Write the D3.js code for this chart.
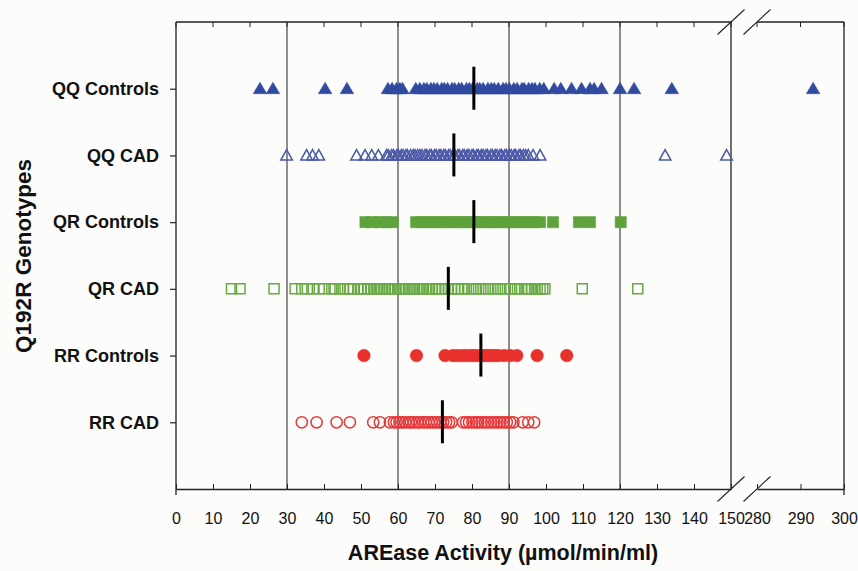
<!DOCTYPE html>
<html><head><meta charset="utf-8">
<script src="https://cdn.jsdelivr.net/npm/d3@7/dist/d3.min.js"></script>
<style>
body{margin:0;background:#fcfcfa;}
svg{display:block;font-family:"Liberation Sans",Arial,sans-serif;}
</style></head><body>
<svg id="c" width="858" height="571"></svg>
<script>
const categories = ["QQ Controls","QQ CAD","QR Controls","QR CAD","RR Controls","RR CAD"];
const xTicksLeft = [0,10,20,30,40,50,60,70,80,90,100,110,120,130,140,150];
const xTicksRight = [280,290,300];
const gridValues = [30,60,90,120];
const medians = [80.5, 75.1, 80.5, 73.6, 82.4, 72.0];

const qqControls = [22.7,26.2,40.3,46.2,57.3,58.4,59.6,60.5,61.2,64.8,65.9,67.0,67.8,68.9,69.7,70.6,71.8,72.5,73.4,74.6,75.3,76.4,77.2,78.5,79.3,80.2,81.4,82.1,83.0,84.3,85.2,86.0,87.1,88.4,89.2,90.1,91.3,92.2,93.5,94.1,95.3,96.2,97.0,98.3,99.4,102.2,104.0,106.9,109.6,111.9,113.0,115.0,120.0,123.8,134.0,292.9];
const qqCad = [29.9,35.3,36.9,38.6,48.8,51.1,52.9,54.7,56.9,57.4,58.3,58.8,59.7,60.1,60.9,61.4,62.2,62.5,63.4,64.1,64.6,65.3,65.9,66.5,67.3,67.8,68.6,69.0,69.9,70.3,71.1,71.6,72.4,72.8,73.7,74.1,74.9,75.4,76.2,76.6,77.5,77.9,78.7,79.2,80.0,80.4,81.3,81.7,82.5,83.0,83.8,84.2,85.1,85.5,86.3,86.8,87.6,88.0,88.9,89.3,90.1,90.6,91.4,91.8,92.7,93.1,93.9,94.5,95.2,96.5,98.4,132.2,148.8];
const qrControls = [51.2,53.0,55.1,56.8,58.6,64.9,66.5,68.0,69.6,71.2,72.5,74.1,75.6,77.0,78.4,80.0,81.3,82.9,84.5,85.8,87.2,88.7,90.3,91.9,93.5,95.1,96.8,98.4,101.9,108.9,111.9,120.2];
const qrCad = [15.0,17.3,26.5,32.2,34.0,35.5,37.1,38.7,40.0,42.1,43.0,44.3,45.2,46.4,47.1,48.0,49.2,50.1,50.9,51.8,52.6,53.5,54.1,54.9,55.6,56.3,57.2,57.8,58.5,59.3,60.1,60.8,61.6,62.2,63.1,63.9,64.5,65.4,66.2,66.9,67.8,68.5,69.3,70.2,71.0,71.9,72.7,73.6,74.4,75.3,76.1,77.2,78.0,79.1,80.3,81.2,82.4,83.6,84.5,85.7,86.9,87.8,89.0,90.2,91.5,92.3,93.4,94.6,95.3,96.1,96.9,97.6,98.4,99.1,99.7,109.8,124.8];
const rrControls = [50.8,65.0,72.7,74.8,75.9,77.2,78.3,79.5,80.4,81.3,82.6,83.5,84.4,85.3,86.2,87.1,88.7,90.3,92.1,97.6,105.6];
const rrCad = [34.0,38.0,43.4,47.0,53.3,55.1,57.8,58.9,59.6,60.4,61.2,62.0,62.9,63.5,64.3,65.2,65.9,66.8,67.5,68.3,69.1,69.8,70.6,71.4,72.2,73.0,73.8,74.5,77.6,78.4,79.2,80.1,81.0,81.7,82.6,83.5,84.3,85.2,86.0,86.9,87.7,88.6,89.4,90.3,91.2,93.7,95.2,96.8];

const seriesValues = [qqControls, qqCad, qrControls, qrCad, rrControls, rrCad];
const shapes = ["triFill","triOpen","sqFill","sqOpen","cirFill","cirOpen"];
const colors = ["#2f4a9e","#4c5aa8","#5da23a","#68a944","#e8302d","#e4393a"];

const W=858,H=571;
const L=176, R1=731, L2=757, R2=844, T=22, B=489;
const svg=d3.select("#c");
svg.append("rect").attr("width",W).attr("height",H).attr("fill","#fcfcfa");

const xL=d3.scaleLinear().domain([0,150]).range([L,R1]);
const xR=d3.scaleLinear().domain([280,300]).range([L2,R2]);
const x=v=> v<=150 ? xL(v) : xR(v);
const step=(B-T)/7;
const y=d3.scalePoint().domain(categories).range([T+step, T+6*step]);

const ink="#222";
// gridlines
svg.append("g").selectAll("line").data(gridValues).join("line")
  .attr("x1",d=>xL(d)).attr("x2",d=>xL(d)).attr("y1",T).attr("y2",B)
  .attr("stroke","#333").attr("stroke-width",1.1);

// frame
const frame=svg.append("g").attr("stroke",ink).attr("stroke-width",1.3).attr("fill","none");
frame.append("line").attr("x1",L).attr("x2",L).attr("y1",T).attr("y2",B);
frame.append("line").attr("x1",R1).attr("x2",R1).attr("y1",T).attr("y2",B);
frame.append("line").attr("x1",R2).attr("x2",R2).attr("y1",T).attr("y2",B+6);
frame.append("line").attr("x1",L).attr("x2",R1).attr("y1",T).attr("y2",T);
frame.append("line").attr("x1",L2).attr("x2",R2).attr("y1",T).attr("y2",T);
frame.append("line").attr("x1",L).attr("x2",L).attr("y1",B).attr("y2",B+6);

// top minor ticks
svg.append("g").selectAll("line").data(xTicksLeft.concat(xTicksRight)).join("line")
  .attr("x1",d=>x(d)).attr("x2",d=>x(d)).attr("y1",T).attr("y2",T+5)
  .attr("stroke",ink).attr("stroke-width",1);

// bottom axes
function styleAxis(g){
  g.select(".domain").attr("stroke",ink).attr("stroke-width",1.3);
  g.selectAll(".tick line").attr("stroke",ink);
  g.selectAll(".tick text").attr("fill","#111").attr("font-size",16);
}
svg.append("g").attr("transform",`translate(0,${B})`)
  .call(d3.axisBottom(xL).tickValues(xTicksLeft).tickSizeInner(-5).tickSizeOuter(0).tickPadding(24).tickFormat(d3.format("d")))
  .call(styleAxis);
svg.append("g").attr("transform",`translate(0,${B})`)
  .call(d3.axisBottom(xR).tickValues(xTicksRight).tickSizeInner(-5).tickSizeOuter(0).tickPadding(24).tickFormat(d3.format("d")))
  .call(styleAxis);

// left axis
const ya=svg.append("g").attr("transform",`translate(${L},0)`)
  .call(d3.axisLeft(y).tickSizeInner(6).tickSizeOuter(0).tickPadding(11));
ya.select(".domain").remove();
ya.selectAll(".tick line").attr("stroke",ink).attr("stroke-width",1.2);
ya.selectAll(".tick text").attr("fill","#111").attr("font-size",18).attr("font-weight","bold");

// break marks
const brk=svg.append("g").attr("stroke",ink).attr("stroke-width",1.1);
[xL(150), xR(280)].forEach(cx=>{
  [T,B].forEach(cy=>{
    brk.append("line").attr("x1",cx-13.5).attr("y1",cy+12.5).attr("x2",cx+13.5).attr("y2",cy-12.5);
  });
});

// points
const paths={
  triFill:"M0,-6.5L6.8,5L-6.8,5Z",
  triOpen:"M0,-5.8L5.8,4.6L-5.8,4.6Z",
  sqFill:"M-5.6,-5.6h11.2v11.2h-11.2Z",
  sqOpen:"M-5,-5h10v10h-10Z"
};
const pts=svg.append("g");
seriesValues.forEach((vals,i)=>{
  const cat=categories[i], shp=shapes[i], col=colors[i];
  const g=pts.append("g");
  if(shp.startsWith("cir")){
    const filled=shp==="cirFill";
    g.selectAll("circle").data(vals).join("circle")
      .attr("cx",d=>x(d)).attr("cy",y(cat)).attr("r",filled?6.3:5.6)
      .attr("fill",filled?col:"none").attr("stroke",col).attr("stroke-width",filled?0.5:1.5);
  } else {
    const filled=shp.endsWith("Fill");
    g.selectAll("path").data(vals).join("path")
      .attr("d",paths[shp]).attr("transform",d=>`translate(${x(d)},${y(cat)})`)
      .attr("fill",filled?col:"none").attr("stroke",col).attr("stroke-width",filled?0.5:1.5)
      .attr("stroke-linejoin","miter");
  }
});

// medians
svg.append("g").selectAll("line").data(medians).join("line")
  .attr("x1",d=>xL(d)).attr("x2",d=>xL(d))
  .attr("y1",(d,i)=>y(categories[i])-22).attr("y2",(d,i)=>y(categories[i])+21)
  .attr("stroke","#000").attr("stroke-width",3);

// axis titles
svg.append("text").attr("x",(L+R2)/2-7).attr("y",560).attr("text-anchor","middle")
  .attr("font-size",21.5).attr("font-weight","bold").attr("fill","#111")
  .text("AREase Activity (µmol/min/ml)");
svg.append("text").attr("transform",`translate(31,256) rotate(-90)`).attr("text-anchor","middle")
  .attr("font-size",22.5).attr("font-weight","bold").attr("fill","#111")
  .text("Q192R Genotypes");
</script>
</body></html>
